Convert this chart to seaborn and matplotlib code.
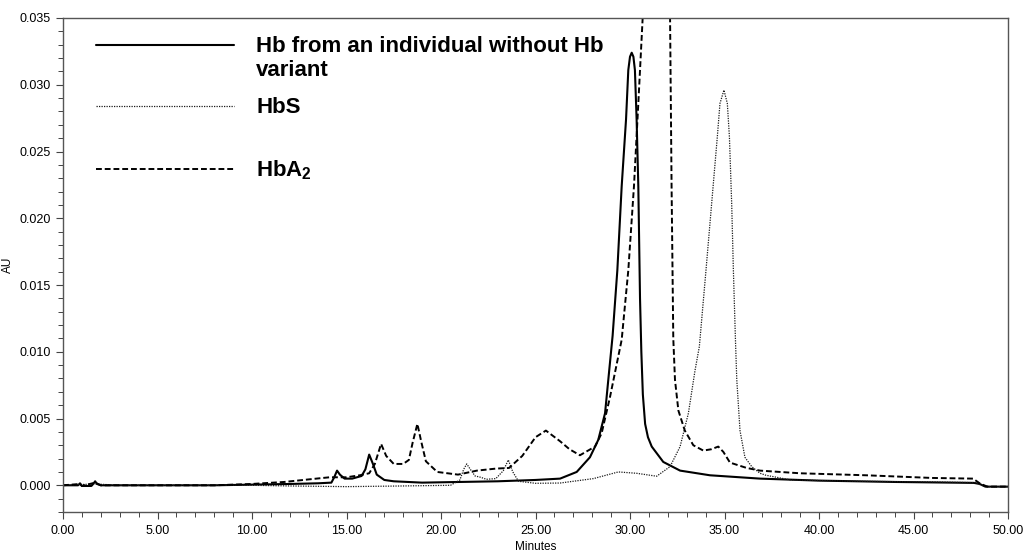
import numpy as np
import pandas as pd
import seaborn as sns
import matplotlib.pyplot as plt
from matplotlib.ticker import MultipleLocator, FormatStrFormatter

# values (minutes, AU)
minutes_normal = [0.0, 0.8, 0.9, 1.0, 1.5, 1.6, 1.7, 1.8, 2.0, 5.0, 8.0, 10.0, 12.0, 13.5,
                  14.2, 14.35, 14.5, 14.65, 14.9, 15.3, 15.8, 16.0, 16.2, 16.4, 16.6, 17.0,
                  17.5, 19.0, 21.0, 23.0, 25.0, 26.3, 27.18, 27.88, 28.32, 28.68, 28.9,
                  29.08, 29.33, 29.56, 29.79, 29.91, 30.0, 30.09, 30.18, 30.26, 30.35, 30.44,
                  30.53, 30.6, 30.68, 30.8, 30.95, 31.15, 31.76, 32.65, 34.23, 36.88, 40.0,
                  44.0, 48.2, 48.5, 48.8, 50.0]
au_normal = [0.0, 0.0, 0.00015, -0.00005, -0.00005, 0.0001, 0.0003, 0.0001, 0.0, 0.0, 0.0,
             0.00005, 0.0001, 0.00015, 0.0002, 0.0006, 0.0011, 0.0008, 0.0005, 0.0005, 0.0007,
             0.0012, 0.0023, 0.0016, 0.0008, 0.0004, 0.0003, 0.0002, 0.00025, 0.0003, 0.0004,
             0.0005, 0.0010, 0.0021, 0.0034, 0.0054, 0.0086, 0.0112, 0.0161, 0.0224, 0.0274,
             0.0311, 0.0321, 0.0324, 0.0321, 0.0311, 0.0274, 0.0224, 0.0140, 0.0100, 0.0068,
             0.0046, 0.0036, 0.0029, 0.00175, 0.0011, 0.00075, 0.0005, 0.00035, 0.00025,
             0.00018, 0.0001, -0.0001, -0.0001]

minutes_hbs = [0.0, 1.7, 3.0, 8.0, 10.0, 12.0, 15.0, 18.0, 20.5, 21.0, 21.2, 21.36, 21.55,
               21.8, 22.1, 22.4, 22.9, 23.3, 23.56, 23.8, 24.1, 25.0, 26.3, 28.06, 29.38,
               30.35, 31.41, 32.12, 32.65, 33.09, 33.44, 33.67, 34.02, 34.32, 34.62, 34.76,
               34.97, 35.15, 35.26, 35.38, 35.47, 35.59, 35.65, 35.82, 36.08, 36.44, 36.88,
               37.2, 38.5, 42.0, 46.0, 48.3, 48.6, 49.0, 50.0]
au_hbs = [0.0, 0.0001, 0.0, 0.0, 0.0, -0.00005, -0.0001, -0.00005, 0.0, 0.0004, 0.0012,
          0.0016, 0.0012, 0.0007, 0.0006, 0.00045, 0.0005, 0.0011, 0.0019, 0.0010, 0.0003,
          0.00015, 0.00017, 0.0005, 0.0010, 0.0009, 0.00068, 0.0014, 0.0029, 0.0054, 0.0086,
          0.0104, 0.0161, 0.0211, 0.0261, 0.0286, 0.0296, 0.0286, 0.0261, 0.0211, 0.0161,
          0.0104, 0.0079, 0.0041, 0.0021, 0.0014, 0.0009, 0.00075, 0.0004, 0.0003, 0.00025,
          0.0002, 0.0, -0.0001, -0.0001]

minutes_hba2 = [0.0, 0.9, 1.0, 1.7, 2.0, 8.0, 10.0, 11.7, 13.4, 14.1, 15.0, 15.7, 16.2,
                16.5, 16.83, 17.1, 17.5, 18.0, 18.3, 18.5, 18.75, 18.95, 19.2, 19.8, 20.9,
                21.9, 22.9, 23.6, 24.3, 25.0, 25.55, 26.3, 26.8, 27.35, 28.15, 28.5, 28.94,
                29.3, 29.56, 29.91, 30.21, 30.44, 30.67, 30.9, 31.4, 31.9, 32.12, 32.2,
                32.29, 32.38, 32.56, 32.9, 33.35, 33.88, 34.3, 34.67, 34.94, 35.29, 36.17,
                36.88, 39.0, 42.5, 46.0, 48.15, 48.5, 48.9, 50.0]
au_hba2 = [0.0, 0.0001, -0.00005, 0.0002, 0.0, 0.0, 0.0001, 0.00025, 0.0005, 0.0006, 0.0006,
           0.00075, 0.0009, 0.0016, 0.0031, 0.0022, 0.0016, 0.0016, 0.0019, 0.0032, 0.0046,
           0.0033, 0.0018, 0.0010, 0.0008, 0.0011, 0.00125, 0.0013, 0.0022, 0.0036, 0.0041,
           0.0033, 0.0027, 0.00225, 0.0029, 0.0039, 0.0066, 0.0091, 0.0109, 0.0161, 0.0224,
           0.0286, 0.0350, 0.0450, 0.0550, 0.0450, 0.0350, 0.0224, 0.0110, 0.0079, 0.0056,
           0.0041, 0.0030, 0.0026, 0.0027, 0.0029, 0.0025, 0.0017, 0.0013, 0.0011, 0.0009,
           0.00075, 0.00055, 0.0005, 0.00015, -0.0001, -0.0001]

labels = ["Hb from an individual without Hb", "HbS", "HbA$_2$"]

sns.set_style("ticks")
plt.rcParams['font.family'] = ['Liberation Sans', 'DejaVu Sans']
plt.rcParams['mathtext.default'] = 'regular'
plt.rcParams['text.color'] = 'black'
plt.rcParams['axes.labelcolor'] = 'black'
plt.rcParams['xtick.color'] = 'black'
plt.rcParams['ytick.color'] = 'black'

fig = plt.figure(figsize=(10.23, 5.55), dpi=100)
ax = fig.add_axes([63 / 1023, 43 / 555, 945 / 1023, 494 / 555])

df_normal = pd.DataFrame({"Minutes": minutes_normal, "AU": au_normal})
df_hbs = pd.DataFrame({"Minutes": minutes_hbs, "AU": au_hbs})
df_hba2 = pd.DataFrame({"Minutes": minutes_hba2, "AU": au_hba2})

sns.lineplot(data=df_normal, x="Minutes", y="AU", ax=ax, color="black", lw=1.5,
             label=labels[0])
sns.lineplot(data=df_hbs, x="Minutes", y="AU", ax=ax, color="#1a1a1a", lw=0.9,
             linestyle=(0, (1, 1)), label=labels[1])
sns.lineplot(data=df_hba2, x="Minutes", y="AU", ax=ax, color="black", lw=1.4,
             linestyle=(0, (3, 1.5)), label=labels[2])

ax.set_xlim(0, 50)
ax.set_ylim(-0.002, 0.035)
ax.xaxis.set_major_locator(MultipleLocator(5))
ax.xaxis.set_minor_locator(MultipleLocator(1))
ax.yaxis.set_major_locator(MultipleLocator(0.005))
ax.yaxis.set_minor_locator(MultipleLocator(0.001))
ax.xaxis.set_major_formatter(FormatStrFormatter("%.2f"))
ax.yaxis.set_major_formatter(FormatStrFormatter("%.3f"))
ax.tick_params(which="major", length=5, width=0.8, labelsize=9, pad=4, color="#444444")
ax.tick_params(which="minor", length=3.5, width=0.7, color="#444444")
for s in ax.spines.values():
    s.set_visible(True)
    s.set_color("#555555")
    s.set_linewidth(1.0)

ax.set_xlabel("Minutes", fontsize=8.5, labelpad=3)
ax.set_ylabel("AU", fontsize=8.5, labelpad=4)

leg = ax.legend(loc="upper left", bbox_to_anchor=(0.035, 0.963), frameon=False,
                prop={"weight": "bold", "size": 16}, handlelength=6.2,
                handletextpad=1.0, labelspacing=1.8, borderpad=0, borderaxespad=0)
ax.annotate("variant", xy=(0, 0), xycoords=leg.get_texts()[0], xytext=(0, -19),
            textcoords="offset pixels", va="baseline", ha="left", fontsize=16,
            fontweight="bold", zorder=6)

fig.canvas.draw()
fig.savefig("out.png", dpi=100)
